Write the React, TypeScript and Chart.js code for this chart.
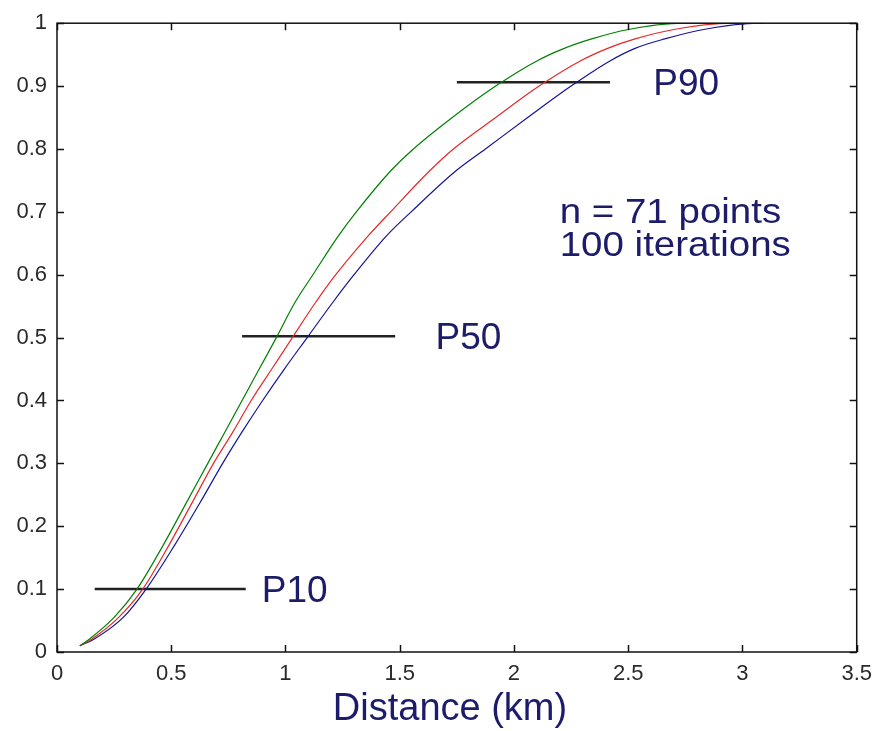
import React, { useEffect, useRef } from 'react';
import { Chart, registerables } from 'chart.js';

Chart.register(...registerables);

// Cumulative probability levels (y) shared by the three curves
const cdfLevels = [0.01, 0.02, 0.055, 0.1, 0.17, 0.24, 0.3, 0.35, 0.4, 0.45, 0.5, 0.555, 0.6, 0.661, 0.7, 0.765, 0.8, 0.85, 0.9, 0.94, 0.96, 0.975, 0.99, 1.0, 1.0];
// Distance (km) reached by each curve at those levels
const greenDistances = [0.10, 0.14, 0.25, 0.35, 0.465, 0.57, 0.66, 0.735, 0.81, 0.885, 0.96, 1.04, 1.12, 1.23, 1.31, 1.46, 1.56, 1.73, 1.92, 2.10, 2.22, 2.34, 2.50, 2.74, 3.0];
const redDistances = [0.10, 0.15, 0.27, 0.375, 0.49, 0.595, 0.685, 0.77, 0.85, 0.94, 1.03, 1.13, 1.22, 1.36, 1.46, 1.63, 1.735, 1.92, 2.11, 2.29, 2.41, 2.53, 2.70, 2.95, 3.05];
const blueDistances = [0.10, 0.16, 0.29, 0.39, 0.515, 0.63, 0.725, 0.81, 0.90, 0.995, 1.095, 1.205, 1.30, 1.44, 1.55, 1.745, 1.875, 2.06, 2.25, 2.42, 2.53, 2.66, 2.83, 3.07, 3.1];

// Percentile marker lines
const percentileNames = ['P10', 'P50', 'P90'];
const percentileLevels = [0.1, 0.502, 0.906];
const percentileStarts = [0.165, 0.81, 1.75];
const percentileEnds = [0.826, 1.48, 2.42];
const percentileLabelX = [0.896, 1.657, 2.61];

const noteLines = ['n = 71 points', '100 iterations'];
const xTitle = 'Distance (km)';

const xTicks = [0, 0.5, 1, 1.5, 2, 2.5, 3, 3.5];
const yTicks = [0, 0.1, 0.2, 0.3, 0.4, 0.5, 0.6, 0.7, 0.8, 0.9, 1];

const TEXT_COLOR = '#1c1c6a';
const FONT = '"Liberation Sans", Arial, sans-serif';

const overlayPlugin = {
  id: 'matlabOverlay',
  afterDatasetsDraw(chart: any) {
    const { ctx, chartArea, scales } = chart;
    const xs = scales.x;
    const ys = scales.y;
    const { left, right, top, bottom } = chartArea;
    ctx.save();
    // box
    ctx.strokeStyle = '#111';
    ctx.lineWidth = 1.5;
    ctx.strokeRect(left, top, right - left, bottom - top);
    // inward ticks
    const tl = 7;
    ctx.beginPath();
    xTicks.forEach((v) => {
      const px = Math.round(xs.getPixelForValue(v)) + 0.5;
      ctx.moveTo(px, bottom);
      ctx.lineTo(px, bottom - tl);
      ctx.moveTo(px, top);
      ctx.lineTo(px, top + tl);
    });
    yTicks.forEach((v) => {
      const py = Math.round(ys.getPixelForValue(v)) + 0.5;
      ctx.moveTo(left, py);
      ctx.lineTo(left + tl, py);
      ctx.moveTo(right, py);
      ctx.lineTo(right - tl, py);
    });
    ctx.stroke();

    // texts
    ctx.fillStyle = TEXT_COLOR;
    ctx.font = `37px ${FONT}`;
    ctx.textAlign = 'left';
    ctx.textBaseline = 'alphabetic';
    percentileNames.forEach((name, i) => {
      const px = xs.getPixelForValue(percentileLabelX[i]);
      const py = ys.getPixelForValue(percentileLevels[i]) + 13;
      ctx.fillText(name, px, py);
    });

    // note block (slightly wide lettering as in the original)
    const nx = xs.getPixelForValue(2.2);
    ctx.font = `35px ${FONT}`;
    const stretch = 1.1;
    [0.683, 0.63].forEach((lv, i) => {
      ctx.save();
      ctx.translate(nx, ys.getPixelForValue(lv));
      ctx.scale(stretch, 1);
      ctx.fillText(noteLines[i], 0, 0);
      ctx.restore();
    });

    ctx.font = `38px ${FONT}`;
    ctx.textAlign = 'center';
    ctx.fillText(xTitle, 450, bottom + 68);
    ctx.restore();
  },
};

export default function App() {
  const ref = useRef<HTMLCanvasElement | null>(null);

  useEffect(() => {
    if (!ref.current) return;
    const curve = (xsArr: number[]) => xsArr.map((x, i) => ({ x, y: cdfLevels[i] }));
    const lineStyle = { borderWidth: 1.2, pointRadius: 0, showLine: true, cubicInterpolationMode: 'monotone' as const };
    const percentileSets = percentileNames.map((name, i) => ({
      label: name,
      data: [
        { x: percentileStarts[i], y: percentileLevels[i] },
        { x: percentileEnds[i], y: percentileLevels[i] },
      ],
      borderColor: '#222',
      borderWidth: 2.5,
      pointRadius: 0,
      showLine: true,
    }));
    const chart = new Chart(ref.current, {
      type: 'scatter',
      data: {
        datasets: [
          { label: 'green', data: curve(greenDistances), borderColor: 'rgb(0,128,0)', ...lineStyle },
          { label: 'red', data: curve(redDistances), borderColor: 'rgb(230,40,40)', ...lineStyle },
          { label: 'blue', data: curve(blueDistances), borderColor: 'rgb(20,20,150)', ...lineStyle },
          ...percentileSets,
        ],
      },
      options: {
        responsive: false,
        animation: false,
        layout: { padding: { top: 18, right: 19, left: 0, bottom: 0 } },
        plugins: { legend: { display: false }, tooltip: { enabled: false } },
        scales: {
          x: {
            type: 'linear',
            min: 0,
            max: 3.5,
            grid: { display: false, drawTicks: false },
            border: { display: false },
            afterBuildTicks: (s: any) => { s.ticks = xTicks.map((v) => ({ value: v })); },
            afterFit: (s: any) => { s.height = 79; },
            ticks: {
              padding: 9,
              color: '#2a2a2a',
              font: { size: 22, family: FONT },
              maxRotation: 0,
              callback: (v: any) => String(v),
            },
          },
          y: {
            type: 'linear',
            min: 0,
            max: 1,
            grid: { display: false, drawTicks: false },
            border: { display: false },
            afterBuildTicks: (s: any) => { s.ticks = yTicks.map((v) => ({ value: v })); },
            afterFit: (s: any) => { s.width = 57; },
            ticks: {
              padding: 10,
              color: '#2a2a2a',
              font: { size: 22, family: FONT },
              callback: (v: any) => String(v),
            },
          },
        },
      },
      plugins: [overlayPlugin],
    });
    return () => chart.destroy();
  }, []);

  return (
    <div style={{ position: 'absolute', left: 0, top: 0, width: 881, height: 731, background: '#fff' }}>
      <canvas ref={ref} width={881} height={731} style={{ display: 'block' }} />
    </div>
  );
}
